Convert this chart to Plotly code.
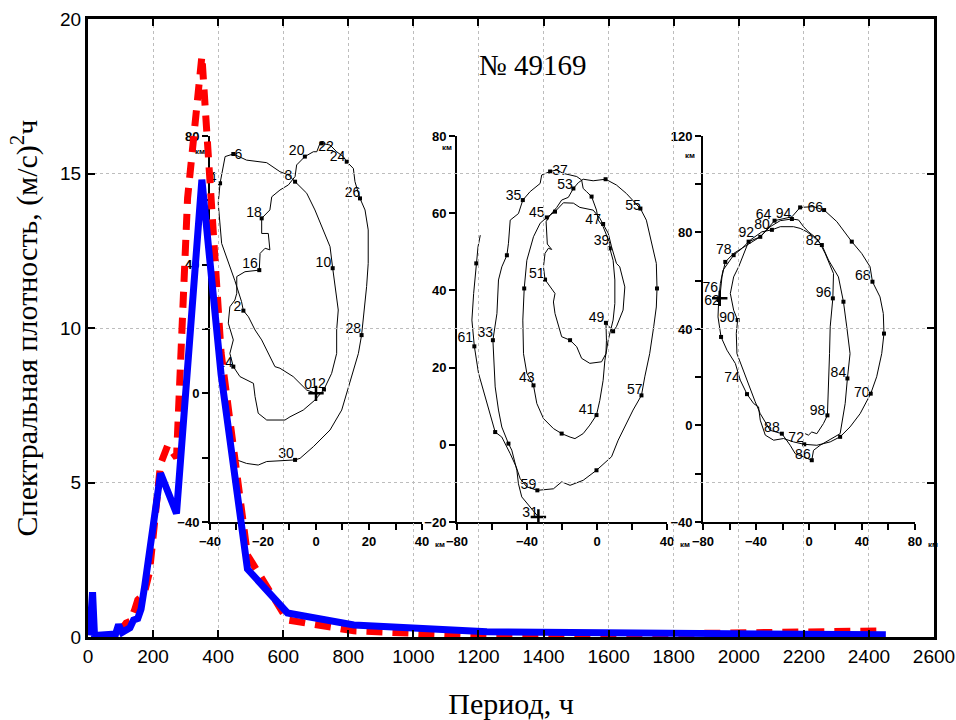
import plotly.graph_objects as go

# ---------------- main spectrum data ----------------
period_blue = [5, 14, 20, 70, 85, 94, 105, 129, 140, 153, 163, 175, 189, 204, 223, 272, 350, 409, 490, 613, 817, 1226, 2452]
dens_blue = [0.05, 1.45, 0.05, 0.05, 0.1, 0.4, 0.15, 0.3, 0.55, 0.6, 0.9, 1.7, 2.7, 4.0, 5.3, 4.0, 14.8, 8.5, 2.2, 0.78, 0.39, 0.17, 0.07]

period_red = [20, 90, 117, 129, 144, 153, 163, 175, 189, 204, 223, 245, 272, 306, 350, 409, 490, 613, 817, 1226, 2452]
dens_red = [0.0, 0.05, 0.45, 0.5, 0.9, 1.2, 1.3, 1.5, 2.1, 3.5, 5.6, 6.2, 5.8, 14.2, 18.8, 9.2, 2.65, 0.55, 0.2, 0.02, 0.2]

# ---------------- trajectory insets (km) ----------------
tr1_x = [0, -3.5, -8.6, -13.6, -15.5, -18.0, -20.5, -23.0, -25.5, -27.4,
         -28.1, -30.6, -35.6, -36.9, -36.2, -34.3, -31.2, -26.2, -18.6, -13.6, -10.4, -7.9,
         -3.5, -0.4, 2.8, 5.3, 6.3, 7.2, 8.4, 7.8, 7.8, 5.9, 3.0,
         -0.4, -4.8, -9.8, -11.7, -18.6, -21.8, -23.0, -23.6, -28.7, -31.2,
         -32.5, -31.2, -33.1, -32.5, -30.6, -29.9, -29.9, -26.8, -21.4,
         -21.1, -19.2, -17.4, -18.0, -20.5, -20.5,
         -17.4, -16.7, -13.6, -10.4, -7.9, -7.3, -4.2,
         -1.0, 0.3, 1.5, 2.1, 5.3, 7.8, 10.3, 11.6,
         14.1, 14.7, 16.6, 18.5, 19.7, 19.7, 19.1, 17.9, 17.2,
         16.0, 12.8, 9.7, 5.3, -1.0, -6.0, -7.9,
         -18.6, -21.8, -26.2, -29.9, -31.8]
tr1_y = [0, 1.0, 5.2, 7.8, 8.3, 12.4, 16.6, 19.7, 23.8, 25.7,
         28.5, 35.0, 46.6, 59.1, 65.3, 73.6, 74.4, 72.5, 71.7, 68.9, 67.9, 65.8,
         62.2, 57.0, 50.8, 45.6, 38.9, 33.2, 25.9, 19.7, 12.4, 6.2, 1.2,
         -2.1, -5.2, -7.3, -8.3, -8.3, -6.2, -1.0, 3.1, 5.2, 8.3,
         12.4, 16.6, 21.8, 26.9, 29.0, 31.1, 36.3, 37.8, 38.3,
         43.5, 45.1, 44.6, 49.7, 49.7, 54.4,
         57.0, 61.1, 63.2, 64.8, 67.4, 71.0, 73.6,
         75.1, 75.1, 77.7, 77.7, 77.2, 75.1, 73.6, 72.0,
         69.9, 65.8, 60.6, 57.0, 50.8, 40.4, 33.2, 24.9, 18.1,
         12.4, 3.1, -5.2, -11.4, -16.6, -20.2, -20.7,
         -21.2, -22.3, -21.8, -20.7, -19.2]
day1_x = [-27.4, -36.2, -31.2, -7.9, 6.3, 3.0, -31.2, -21.4, -20.5, -4.2, 2.1, 11.6, 16.6, 17.2, -7.9]
day1_y = [25.7, 65.3, 74.4, 65.8, 38.9, 1.2, 8.3, 38.3, 54.4, 73.6, 77.7, 72.0, 60.6, 18.1, -20.7]
lab1_text = ["0", "2", "4", "6", "8", "10", "12", "14", "16", "18", "20", "22", "24", "26", "28", "30"]
lab1_x = [-3.0, -29.7, -39.0, -29.3, -10.4, 2.8, 0.8, -34.3, -24.9, -23.4, -7.3, 3.8, 8.1, 13.8, 14.1, -11.3]
lab1_y = [2.3, 26.7, 66.8, 73.8, 67.4, 40.4, 2.8, 9.3, 39.9, 56.0, 75.1, 76.5, 73.4, 62.0, 19.7, -19.0]

tr2_x = [-33.5, -38.2, -43.0, -44.9, -45.8, -48.7, -50.6, -54.4, -56.3, -58.2, -59.1, -59.5,
         -57.2, -56.3, -54.4, -51.5, -50.6, -49.6, -44.9, -43.0, -42.4, -38.2, -32.5, -31.6, -26.8,
         -23.0, -19.2, -15.4, -11.6, -8.8, -7.9, -6.0, -3.1, -0.3, 0.7, 3.5, 7.3, 7.3,
         9.2, 10.2, 10.2, 9.2, 6.4, 4.5, 3.5, 1.6, -0.3,
         -4.1, -7.9, -12.6, -15.4, -20.2, -24.9, -30.6, -34.4, -36.3,
         -40.1, -42.0, -42.4, -41.6, -40.1, -36.3, -32.5, -28.7,
         -24.0, -19.2, -13.5, -9.8, -2.2, 1.6, 3.5, 6.4, 8.3, 11.1, 13.0, 15.9, 14.9, 11.1, 9.2,
         5.1, 5.4, 5.1, 2.6, -4.1, -8.8, -11.6, -15.4, -20.2, -24.0, -24.9, -24.0, -27.8, -29.7,
         -30.6, -29.7, -27.8, -25.9, -28.4, -28.7, -29.1, -26.8, -23.0, -20.2, -16.4, -13.5,
         -10.7, -7.9, -2.2, 4.9, 11.1, 16.8, 24.8, 28.2, 31.1, 33.9, 34.3, 33.9, 32.4, 30.1, 27.3, 25.4,
         20.6, 16.8, 12.1, 8.3, -0.3, -7.9, -15.4, -20.2, -24.9, -34.1,
         -40.1, -43.9, -46.2, -49.6, -54.4, -58.2, -61.0, -64.8, -67.7, -70.1,
         -71.5, -70.5, -69.0, -68.0, -66.7]
tr2_y = [-18.7, -16.1, -13.5, -10.1, -6.6, -1.4, 0.3, 4.6, 9.0, 15.0, 23.6, 27.1,
         34.0, 42.7, 46.1, 49.1, 52.2, 58.2, 59.9, 62.5, 63.4, 65.6, 67.7, 69.9, 70.8,
         71.2, 70.3, 69.9, 69.5, 68.6, 66.4, 65.6, 64.3, 60.8, 58.2, 56.5, 52.2, 50.9,
         47.8, 42.7, 36.6, 32.3, 27.1, 21.9, 16.7, 11.5, 7.7,
         5.1, 2.9, 1.6, 2.0, 2.9, 4.2, 6.8, 10.7, 15.4,
         18.5, 23.6, 32.3, 40.5, 47.8, 53.9, 57.4, 58.9,
         60.4, 62.7, 62.6, 61.5, 60.8, 58.7, 57.2, 54.8, 51.3, 47.0, 46.1, 40.9, 34.9, 30.6, 29.4,
         31.6, 27.1, 23.6, 21.5, 21.1, 22.4, 25.4, 27.1, 28.0, 34.0, 37.0, 39.2, 41.8, 42.8,
         46.1, 49.6, 50.9, 50.6, 52.0, 54.8, 57.8, 59.5, 61.5, 63.4, 64.1, 66.4,
         67.9, 68.8, 68.4, 68.8, 67.3, 65.1, 61.2, 58.2, 52.2, 47.0, 40.5, 35.7, 30.6, 23.6, 17.6, 12.8,
         9.0, 5.5, 1.2, -3.1, -6.6, -9.2, -10.5, -9.6, -11.4, -11.8,
         -10.9, -8.8, -5.7, -2.3, 2.0, 3.3, 7.7, 13.3, 18.5, 25.5,
         32.3, 39.2, 47.0, 51.3, 54.3]
day2_x = [-59.5, -42.4, -26.8, 7.3, -0.3, -36.3, -28.7, 3.5, 5.1, -29.7, -13.5, 24.8, 25.4, -34.1, -70.1,
          -50.6, -51.5, -3.1, -20.2, -41.6, -24.0, 9.2, -15.4, 4.9, 34.3, -0.3, -58.2, -69.0]
day2_y = [27.1, 63.4, 70.8, 50.9, 7.7, 15.4, 58.9, 57.2, 31.6, 42.8, 66.4, 61.2, 12.8, -11.8, 25.5,
          0.3, 49.1, 64.3, 2.9, 40.5, 60.4, 29.4, 27.1, 68.8, 40.5, -6.6, 3.3, 47.0]
lab2_text = ["31", "33", "35", "37", "39", "41", "43", "45", "47", "49", "51", "53", "55", "57", "59", "61"]
lab2_x = [-38.2, -63.9, -47.7, -21.1, 2.6, -6.0, -40.1, -34.4, -2.2, -0.3, -34.4, -18.3, 20.6, 21.6, -39.2, -75.3]
lab2_y = [-17.8, 28.8, 64.3, 70.8, 52.6, 9.0, 17.2, 59.9, 58.2, 32.7, 44.0, 67.3, 61.7, 14.1, -10.5, 27.5]

tr3_x = [-67.4, -65.7, -63.2, -56.9, -46.8, -36.8, -26.0, -19.2, -12.9, -6.7, 3.4, 11.4,
         21.0, 32.3, 39.8, 46.1, 47.9, 53.6, 56.1, 56.6, 54.9, 51.1, 46.6,
         38.6, 31.0, 23.5, 16.0, 5.9, -3.6, -11.7, -19.2, -26.7, -33.0, -36.8, -38.1, -41.8, -46.8,
         -51.9, -55.6, -61.9, -66.4, -68.7, -68.2,
         -66.9, -64.9, -56.9, -50.6, -44.3, -35.5, -28.0, -21.7, -11.7, -6.7, -1.6, 3.4, 9.7,
         14.7, 22.2, 26.0, 28.5, 31.0, 29.0, 27.3, 23.5, 8.4, 3.4, 2.1, -4.1, -10.4, -14.2, -20.5,
         -29.3, -36.8, -40.6, -46.8, -50.6, -54.4, -54.9, -53.9, -56.9, -59.4, -56.9, -53.1, -45.6,
         -36.8, -29.3, -21.7, -12.9, -7.9, -4.1, -0.4, 5.9, 8.4, 12.2, 18.5, 18.0,
         17.2, 16.0, 15.5, 14.7, 13.9, 10.9, 5.9, 2.1, -0.4, -2.9]
tr3_y = [52.7, 61.6, 67.8, 71.3, 74.8, 78.2, 84.9, 85.8, 86.5, 90.4, 90.7, 89.3,
         84.5, 76.2, 71.3, 65.8, 59.6, 53.3, 46.4, 38.1, 29.8, 20.2, 13.2,
         4.9, -0.6, -4.7, -6.8, -8.2, -7.8, -6.8, -5.4, -6.1, -4.0, 2.2, 7.7, 9.1, 13.0,
         18.8, 25.7, 31.2, 36.7, 45.0, 52.0,
         58.9, 64.4, 70.6, 73.4, 76.9, 80.3, 81.1, 82.4, 82.4, 81.7, 80.3, 78.2, 74.8,
         68.6, 61.6, 51.3, 40.9, 29.8, 19.5, 9.1, -3.4, -8.2, -10.3, -14.4, -13.0, -11.7, -8.2, -3.4,
         -2.0, 4.9, 9.8, 18.8, 24.3, 29.8, 38.1, 43.7, 47.8, 54.7, 61.6, 65.8, 76.2,
         78.2, 82.4, 84.9, 85.6, 85.2, 82.4, 80.3, 77.5, 75.5, 71.3, 63.0, 52.7,
         47.8, 40.9, 29.8, 16.0, 4.2, 0.8, -3.4, -2.7, -4.0, -3.4]
day3_x = [-26.0, 11.4, 47.9, 46.6, -3.6, -46.8, -68.2, -56.9, -28.0, 9.7, 29.0, 2.1, -20.5, -53.9, -45.6, -12.9, 18.0, 13.9,
          -63.2, 32.3, 56.6, 23.5, -66.4, -36.8, 26.0, -6.7]
day3_y = [84.9, 89.3, 59.6, 13.2, -7.8, 13.0, 52.0, 70.6, 81.1, 74.8, 19.5, -14.4, -3.4, 43.7, 76.2, 85.6, 52.7, 4.2,
          67.8, 76.2, 38.1, -4.7, 36.7, 78.2, 51.3, 90.4]
lab3_text = ["62", "64", "66", "68", "70", "72", "74", "76", "78", "80", "82", "84", "86", "88", "90", "92", "94", "96", "98"]
lab3_x = [-73.2, -34.3, 4.7, 40.6, 39.8, -9.7, -58.1, -74.5, -64.4, -35.5, 3.4, 22.2, -4.6, -28.0, -61.9, -47.3, -19.2, 10.9, 6.4]
lab3_y = [51.3, 87.0, 90.0, 61.9, 13.2, -5.4, 19.5, 56.8, 72.7, 82.7, 76.2, 21.5, -12.3, -1.3, 44.4, 79.6, 87.5, 54.7, 5.6]

# axis tick definitions
main_xticks = list(range(0, 2601, 200))
main_yticks = [0, 5, 10, 15, 20]

SANS = "Liberation Sans, Arial, sans-serif"
SERIF = "Liberation Serif, Times New Roman, serif"

fig = go.Figure()

# --- inset trajectories ---
insets = [
    (tr1_x, tr1_y, day1_x, day1_y, lab1_x, lab1_y, lab1_text, "x", "y"),
    (tr2_x, tr2_y, day2_x, day2_y, lab2_x, lab2_y, lab2_text, "x2", "y2"),
    (tr3_x, tr3_y, day3_x, day3_y, lab3_x, lab3_y, lab3_text, "x3", "y3"),
]
for tx, ty, dx, dy, lx, ly, lt, xa, ya in insets:
    fig.add_trace(go.Scatter(x=tx, y=ty, mode="lines", line=dict(color="black", width=1),
                             xaxis=xa, yaxis=ya, showlegend=False, hoverinfo="skip"))
    fig.add_trace(go.Scatter(x=dx, y=dy, mode="markers",
                             marker=dict(symbol="square", size=4, color="black"),
                             xaxis=xa, yaxis=ya, showlegend=False, hoverinfo="skip"))
    fig.add_trace(go.Scatter(x=lx, y=ly, mode="text", text=lt, textposition="middle center",
                             textfont=dict(family=SANS, size=14, color="black"),
                             xaxis=xa, yaxis=ya, showlegend=False, hoverinfo="skip", cliponaxis=False))
    fig.add_trace(go.Scatter(x=[tx[0]], y=[ty[0]], mode="markers",
                             marker=dict(symbol="cross-thin", size=11, line=dict(color="black", width=2.5)),
                             xaxis=xa, yaxis=ya, showlegend=False, hoverinfo="skip"))

# --- main spectra ---
fig.add_trace(go.Scatter(x=period_red, y=dens_red, mode="lines",
                         line=dict(color="#ff0000", width=7, dash="16px,10px"),
                         xaxis="x4", yaxis="y4", showlegend=False))
fig.add_trace(go.Scatter(x=period_blue, y=dens_blue, mode="lines",
                         line=dict(color="#0000ff", width=7),
                         xaxis="x4", yaxis="y4", showlegend=False))

inset_font = dict(family=SANS, size=13, color="black", weight="bold")


def inset_axis(domain, rng, dtick, minor, anchor):
    return dict(domain=domain, range=rng, anchor=anchor, dtick=dtick, tick0=0,
                showline=True, linecolor="black", linewidth=2, ticks="outside",
                ticklen=6, tickwidth=1.5, tickcolor="black", showgrid=False, zeroline=False,
                tickfont=inset_font, ticklabeloverflow="allow", automargin=False,
                minor=dict(dtick=minor, ticks="outside", ticklen=6, tickwidth=1.5,
                           tickcolor="black", showgrid=False))


main_tickfont = dict(family=SANS, size=19, color="black")
fig.update_layout(
    width=956, height=720,
    margin=dict(l=88, r=22, t=19, b=83, autoexpand=False),
    paper_bgcolor="white", plot_bgcolor="rgba(0,0,0,0)",
    xaxis=inset_axis([0.1442, 0.3948], [-40, 40], 20, 10, "y"),
    yaxis=inset_axis([0.1861, 0.8107], [-40, 80], 40, 20, "x"),
    xaxis2=inset_axis([0.4362, 0.6844], [-80, 40], 40, 20, "y2"),
    yaxis2=inset_axis([0.1861, 0.8107], [-20, 80], 20, 20, "x2"),
    xaxis3=inset_axis([0.7270, 0.9775], [-80, 80], 40, 20, "y3"),
    yaxis3=inset_axis([0.1861, 0.8107], [-40, 120], 40, 20, "x3"),
    xaxis4=dict(domain=[0, 1], range=[0, 2600], anchor="y4", tickvals=main_xticks,
                showline=True, mirror="ticks", linecolor="black", linewidth=3,
                ticks="inside", ticklen=7, tickwidth=1.5, tickcolor="black",
                showgrid=True, gridcolor="#bdbdbd", griddash="dot", gridwidth=1,
                zeroline=False, tickfont=main_tickfont, ticklabeloverflow="allow",
                title=dict(text="Период, ч", font=dict(family=SERIF, size=30, color="black"), standoff=30)),
    yaxis4=dict(domain=[0, 1], range=[0, 20], anchor="x4", tickvals=main_yticks,
                showline=True, mirror="ticks", linecolor="black", linewidth=3,
                ticks="inside", ticklen=7, tickwidth=1.5, tickcolor="black",
                showgrid=True, gridcolor="#bdbdbd", griddash="dot", gridwidth=1,
                zeroline=False, tickfont=main_tickfont, ticklabeloverflow="allow",
                title=dict(text="Спектральная плотность, (м/с)<sup>2</sup>ч",
                           font=dict(family=SERIF, size=30, color="black"), standoff=14)),
)

km_font = dict(family=SANS, size=8, color="black", weight="bold")
ann = [
    dict(text="№ 49169", xref="paper", yref="paper", x=0.525, y=0.955, showarrow=False,
         font=dict(family=SERIF, size=29, color="black")),
    # km unit labels for insets
    dict(text="км", xref="x domain", yref="y", x=0, y=80, xshift=-17, yshift=-16, showarrow=False, font=km_font),
    dict(text="км", xref="x", yref="y domain", x=40, y=0, xshift=18, yshift=-29, showarrow=False, font=km_font),
    dict(text="км", xref="x2 domain", yref="y2", x=0, y=80, xshift=-17, yshift=-12, showarrow=False, font=km_font),
    dict(text="км", xref="x2", yref="y2 domain", x=40, y=0, xshift=18, yshift=-29, showarrow=False, font=km_font),
    dict(text="км", xref="x3 domain", yref="y3", x=0, y=120, xshift=-20, yshift=-20, showarrow=False, font=km_font),
    dict(text="км", xref="x3", yref="y3 domain", x=80, y=0, xshift=18, yshift=-29, showarrow=False, font=km_font),
]
fig.update_layout(annotations=ann)

fig.write_html("out.html")
